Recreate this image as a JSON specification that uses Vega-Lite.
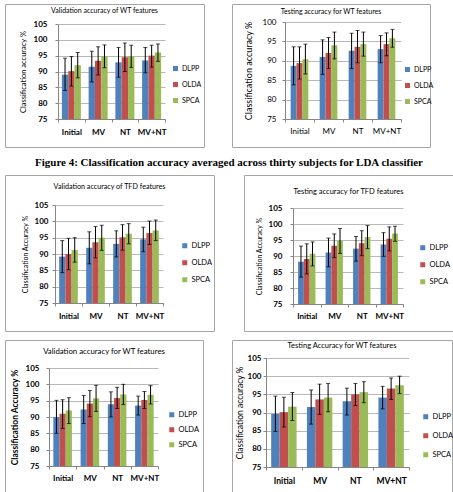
{
  "$schema": "https://vega.github.io/schema/vega-lite/v6.json",
  "padding": {"left": 4, "top": 3, "right": 3, "bottom": 4},
  "background": "white",
  "datasets": {
    "acc": [
      {"p": "a", "cond": "Initial", "method": "DLPP", "mean": 89.0, "lo": 84.0, "hi": 94.2},
      {"p": "a", "cond": "Initial", "method": "OLDA", "mean": 90.1, "lo": 85.4, "hi": 94.7},
      {"p": "a", "cond": "Initial", "method": "SPCA", "mean": 92.0, "lo": 88.0, "hi": 96.0},
      {"p": "a", "cond": "MV", "method": "DLPP", "mean": 91.5, "lo": 86.7, "hi": 96.4},
      {"p": "a", "cond": "MV", "method": "OLDA", "mean": 93.4, "lo": 88.9, "hi": 97.8},
      {"p": "a", "cond": "MV", "method": "SPCA", "mean": 94.8, "lo": 91.2, "hi": 98.4},
      {"p": "a", "cond": "NT", "method": "DLPP", "mean": 92.9, "lo": 88.2, "hi": 97.6},
      {"p": "a", "cond": "NT", "method": "OLDA", "mean": 94.5, "lo": 90.0, "hi": 99.0},
      {"p": "a", "cond": "NT", "method": "SPCA", "mean": 94.8, "lo": 91.3, "hi": 98.3},
      {"p": "a", "cond": "MV+NT", "method": "DLPP", "mean": 93.5, "lo": 89.6, "hi": 97.6},
      {"p": "a", "cond": "MV+NT", "method": "OLDA", "mean": 95.0, "lo": 91.4, "hi": 98.3},
      {"p": "a", "cond": "MV+NT", "method": "SPCA", "mean": 96.0, "lo": 93.2, "hi": 98.7},

      {"p": "b", "cond": "Initial", "method": "DLPP", "mean": 88.7, "lo": 83.8, "hi": 93.6},
      {"p": "b", "cond": "Initial", "method": "OLDA", "mean": 89.4, "lo": 85.3, "hi": 93.6},
      {"p": "b", "cond": "Initial", "method": "SPCA", "mean": 90.4, "lo": 86.6, "hi": 94.3},
      {"p": "b", "cond": "MV", "method": "DLPP", "mean": 91.0, "lo": 86.5, "hi": 95.4},
      {"p": "b", "cond": "MV", "method": "OLDA", "mean": 92.0, "lo": 88.0, "hi": 96.0},
      {"p": "b", "cond": "MV", "method": "SPCA", "mean": 94.0, "lo": 90.5, "hi": 97.4},
      {"p": "b", "cond": "NT", "method": "DLPP", "mean": 92.6, "lo": 88.0, "hi": 97.1},
      {"p": "b", "cond": "NT", "method": "OLDA", "mean": 93.6, "lo": 89.5, "hi": 97.8},
      {"p": "b", "cond": "NT", "method": "SPCA", "mean": 94.3, "lo": 91.2, "hi": 97.4},
      {"p": "b", "cond": "MV+NT", "method": "DLPP", "mean": 93.0, "lo": 89.5, "hi": 96.5},
      {"p": "b", "cond": "MV+NT", "method": "OLDA", "mean": 94.3, "lo": 91.3, "hi": 97.2},
      {"p": "b", "cond": "MV+NT", "method": "SPCA", "mean": 95.8, "lo": 93.5, "hi": 98.1},

      {"p": "c", "cond": "Initial", "method": "DLPP", "mean": 89.2, "lo": 84.3, "hi": 94.1},
      {"p": "c", "cond": "Initial", "method": "OLDA", "mean": 90.0, "lo": 85.2, "hi": 94.8},
      {"p": "c", "cond": "Initial", "method": "SPCA", "mean": 91.2, "lo": 87.5, "hi": 95.0},
      {"p": "c", "cond": "MV", "method": "DLPP", "mean": 91.9, "lo": 87.0, "hi": 96.8},
      {"p": "c", "cond": "MV", "method": "OLDA", "mean": 93.6, "lo": 88.8, "hi": 98.4},
      {"p": "c", "cond": "MV", "method": "SPCA", "mean": 95.0, "lo": 91.1, "hi": 98.8},
      {"p": "c", "cond": "NT", "method": "DLPP", "mean": 93.1, "lo": 89.1, "hi": 97.1},
      {"p": "c", "cond": "NT", "method": "OLDA", "mean": 95.1, "lo": 91.2, "hi": 99.0},
      {"p": "c", "cond": "NT", "method": "SPCA", "mean": 96.2, "lo": 93.1, "hi": 99.3},
      {"p": "c", "cond": "MV+NT", "method": "DLPP", "mean": 94.5, "lo": 90.7, "hi": 98.2},
      {"p": "c", "cond": "MV+NT", "method": "OLDA", "mean": 96.4, "lo": 92.9, "hi": 100.1},
      {"p": "c", "cond": "MV+NT", "method": "SPCA", "mean": 97.2, "lo": 94.1, "hi": 100.4},

      {"p": "d", "cond": "Initial", "method": "DLPP", "mean": 88.2, "lo": 83.4, "hi": 93.1},
      {"p": "d", "cond": "Initial", "method": "OLDA", "mean": 89.1, "lo": 84.4, "hi": 93.8},
      {"p": "d", "cond": "Initial", "method": "SPCA", "mean": 90.7, "lo": 86.9, "hi": 94.4},
      {"p": "d", "cond": "MV", "method": "DLPP", "mean": 91.1, "lo": 86.6, "hi": 95.6},
      {"p": "d", "cond": "MV", "method": "OLDA", "mean": 93.2, "lo": 89.5, "hi": 96.9},
      {"p": "d", "cond": "MV", "method": "SPCA", "mean": 94.8, "lo": 90.8, "hi": 98.6},
      {"p": "d", "cond": "NT", "method": "DLPP", "mean": 92.3, "lo": 88.4, "hi": 96.1},
      {"p": "d", "cond": "NT", "method": "OLDA", "mean": 94.0, "lo": 90.1, "hi": 97.9},
      {"p": "d", "cond": "NT", "method": "SPCA", "mean": 95.9, "lo": 92.3, "hi": 99.5},
      {"p": "d", "cond": "MV+NT", "method": "DLPP", "mean": 93.6, "lo": 89.9, "hi": 97.3},
      {"p": "d", "cond": "MV+NT", "method": "OLDA", "mean": 95.4, "lo": 91.6, "hi": 99.1},
      {"p": "d", "cond": "MV+NT", "method": "SPCA", "mean": 97.0, "lo": 94.6, "hi": 99.3},

      {"p": "e", "cond": "Initial", "method": "DLPP", "mean": 90.0, "lo": 85.0, "hi": 95.1},
      {"p": "e", "cond": "Initial", "method": "OLDA", "mean": 91.0, "lo": 86.5, "hi": 95.3},
      {"p": "e", "cond": "Initial", "method": "SPCA", "mean": 92.0, "lo": 88.0, "hi": 95.9},
      {"p": "e", "cond": "MV", "method": "DLPP", "mean": 92.3, "lo": 88.0, "hi": 96.6},
      {"p": "e", "cond": "MV", "method": "OLDA", "mean": 94.1, "lo": 90.1, "hi": 98.1},
      {"p": "e", "cond": "MV", "method": "SPCA", "mean": 95.7, "lo": 91.7, "hi": 99.7},
      {"p": "e", "cond": "NT", "method": "DLPP", "mean": 93.9, "lo": 90.0, "hi": 97.7},
      {"p": "e", "cond": "NT", "method": "OLDA", "mean": 95.8, "lo": 92.6, "hi": 99.1},
      {"p": "e", "cond": "NT", "method": "SPCA", "mean": 96.9, "lo": 93.8, "hi": 100.0},
      {"p": "e", "cond": "MV+NT", "method": "DLPP", "mean": 93.5, "lo": 90.6, "hi": 96.4},
      {"p": "e", "cond": "MV+NT", "method": "OLDA", "mean": 95.2, "lo": 92.6, "hi": 97.8},
      {"p": "e", "cond": "MV+NT", "method": "SPCA", "mean": 96.8, "lo": 94.0, "hi": 99.6},

      {"p": "f", "cond": "Initial", "method": "DLPP", "mean": 89.6, "lo": 84.8, "hi": 94.5},
      {"p": "f", "cond": "Initial", "method": "OLDA", "mean": 90.1, "lo": 86.0, "hi": 94.2},
      {"p": "f", "cond": "Initial", "method": "SPCA", "mean": 91.6, "lo": 87.8, "hi": 95.5},
      {"p": "f", "cond": "MV", "method": "DLPP", "mean": 91.5, "lo": 86.8, "hi": 96.2},
      {"p": "f", "cond": "MV", "method": "OLDA", "mean": 93.6, "lo": 89.5, "hi": 97.8},
      {"p": "f", "cond": "MV", "method": "SPCA", "mean": 94.1, "lo": 90.2, "hi": 98.0},
      {"p": "f", "cond": "NT", "method": "DLPP", "mean": 93.1, "lo": 89.3, "hi": 96.7},
      {"p": "f", "cond": "NT", "method": "OLDA", "mean": 95.0, "lo": 91.9, "hi": 98.0},
      {"p": "f", "cond": "NT", "method": "SPCA", "mean": 95.6, "lo": 92.7, "hi": 98.5},
      {"p": "f", "cond": "MV+NT", "method": "DLPP", "mean": 94.1, "lo": 91.0, "hi": 97.2},
      {"p": "f", "cond": "MV+NT", "method": "OLDA", "mean": 96.6, "lo": 93.6, "hi": 99.5},
      {"p": "f", "cond": "MV+NT", "method": "SPCA", "mean": 97.5, "lo": 95.2, "hi": 100.0}
    ]
  },
  "resolve": {"scale": {"x": "independent", "y": "independent", "xOffset": "independent", "color": "independent"}, "legend": {"color": "independent"}, "axis": {"x": "independent", "y": "independent"}},
  "spacing": 8,
  "vconcat": [
    {
      "spacing": 26,
      "resolve": {"scale": {"x": "independent", "y": "independent", "xOffset": "independent", "color": "independent"}, "legend": {"color": "independent"}, "axis": {"x": "independent", "y": "independent"}},
      "hconcat": [
        {
          "width": 199, "height": 143,
          "title": {"text": "Validation accuracy of WT features", "offset": -10, "fontSize": 7},
          "data": {"name": "acc"},
          "transform": [{"filter": "datum.p == 'a'"}],
          "encoding": {
            "x": {"field": "cond", "type": "nominal", "sort": ["Initial", "MV", "NT", "MV+NT"], "scale": {"range": [53, 160], "paddingInner": 0, "paddingOuter": 0}, "axis": {"title": null, "offset": -28, "labelPadding": 6}},
            "xOffset": {"field": "method", "type": "nominal", "sort": ["DLPP", "OLDA", "SPCA"], "scale": {"paddingInner": 0, "paddingOuter": 0.61}}
          },
          "layer": [
            {"mark": "bar", "encoding": {
              "y": {"field": "mean", "type": "quantitative", "title": "Classification accuracy %", "scale": {"domain": [75, 105], "range": [115, 20], "nice": false, "zero": false}, "axis": {"offset": -53, "values": [75, 80, 85, 90, 95, 100, 105], "labelOverlap": false, "labelPadding": 8, "titlePadding": 6, "titleFontSize": 7.5}},
              "y2": {"datum": 75},
              "color": {"field": "method", "type": "nominal", "scale": {"domain": ["DLPP", "OLDA", "SPCA"], "range": ["#4F81BD", "#C0504D", "#9BBB59"]}, "legend": {"legendX": 167, "legendY": 61, "labelFontSize": 7, "rowPadding": 8}}
            }},
            {"mark": {"type": "rule", "color": "black"}, "encoding": {"y": {"field": "lo", "type": "quantitative", "title": "Classification accuracy %", "axis": {"offset": -53, "values": [75, 80, 85, 90, 95, 100, 105], "labelOverlap": false, "labelPadding": 8, "titlePadding": 6, "titleFontSize": 7.5}}, "y2": {"field": "hi"}}},
            {"mark": {"type": "tick", "color": "black", "size": 4, "thickness": 1}, "encoding": {"y": {"field": "lo", "type": "quantitative", "title": "Classification accuracy %", "axis": {"offset": -53, "values": [75, 80, 85, 90, 95, 100, 105], "labelOverlap": false, "labelPadding": 8, "titlePadding": 6, "titleFontSize": 7.5}}}},
            {"mark": {"type": "tick", "color": "black", "size": 4, "thickness": 1}, "encoding": {"y": {"field": "hi", "type": "quantitative", "title": "Classification accuracy %", "axis": {"offset": -53, "values": [75, 80, 85, 90, 95, 100, 105], "labelOverlap": false, "labelPadding": 8, "titlePadding": 6, "titleFontSize": 7.5}}}}
          ]
        },
        {
          "width": 198, "height": 143,
          "title": {"text": "Testing accuracy for WT features", "offset": -11, "fontSize": 7},
          "data": {"name": "acc"},
          "transform": [{"filter": "datum.p == 'b'"}],
          "encoding": {
            "x": {"field": "cond", "type": "nominal", "sort": ["Initial", "MV", "NT", "MV+NT"], "scale": {"range": [53, 169], "paddingInner": 0, "paddingOuter": 0}, "axis": {"title": null, "offset": -28, "labelPadding": 5, "labelFontWeight": "normal"}},
            "xOffset": {"field": "method", "type": "nominal", "sort": ["DLPP", "OLDA", "SPCA"], "scale": {"paddingInner": 0, "paddingOuter": 0.96}}
          },
          "layer": [
            {"mark": "bar", "encoding": {
              "y": {"field": "mean", "type": "quantitative", "title": "Classification accuracy %", "scale": {"domain": [75, 100], "range": [115, 18], "nice": false, "zero": false}, "axis": {"offset": -53, "values": [75, 80, 85, 90, 95, 100], "labelOverlap": false, "labelFontWeight": "normal", "labelPadding": 6, "titlePadding": 9, "titleFontSize": 9}},
              "y2": {"datum": 75},
              "color": {"field": "method", "type": "nominal", "scale": {"domain": ["DLPP", "OLDA", "SPCA"], "range": ["#4F81BD", "#C0504D", "#9BBB59"]}, "legend": {"legendX": 172, "legendY": 62, "labelFontSize": 7, "rowPadding": 8}}
            }},
            {"mark": {"type": "rule", "color": "black"}, "encoding": {"y": {"field": "lo", "type": "quantitative", "title": "Classification accuracy %", "axis": {"offset": -53, "values": [75, 80, 85, 90, 95, 100], "labelOverlap": false, "labelFontWeight": "normal", "labelPadding": 6, "titlePadding": 9, "titleFontSize": 9}}, "y2": {"field": "hi"}}},
            {"mark": {"type": "tick", "color": "black", "size": 4, "thickness": 1}, "encoding": {"y": {"field": "lo", "type": "quantitative", "title": "Classification accuracy %", "axis": {"offset": -53, "values": [75, 80, 85, 90, 95, 100], "labelOverlap": false, "labelFontWeight": "normal", "labelPadding": 6, "titlePadding": 9, "titleFontSize": 9}}}},
            {"mark": {"type": "tick", "color": "black", "size": 4, "thickness": 1}, "encoding": {"y": {"field": "hi", "type": "quantitative", "title": "Classification accuracy %", "axis": {"offset": -53, "values": [75, 80, 85, 90, 95, 100], "labelOverlap": false, "labelFontWeight": "normal", "labelPadding": 6, "titlePadding": 9, "titleFontSize": 9}}}}
          ]
        }
      ]
    },
    {
      "title": {"text": "Figure 4: Classification accuracy averaged across thirty subjects for LDA classifier", "font": "Liberation Serif", "fontSize": 11, "fontWeight": "bold", "color": "black", "anchor": "middle", "offset": 7},
      "spacing": 7,
      "resolve": {"scale": {"x": "independent", "y": "independent", "xOffset": "independent", "color": "independent"}, "legend": {"color": "independent"}, "axis": {"x": "independent", "y": "independent"}},
      "vconcat": [
        {
          "spacing": 28,
          "resolve": {"scale": {"x": "independent", "y": "independent", "xOffset": "independent", "color": "independent"}, "legend": {"color": "independent"}, "axis": {"x": "independent", "y": "independent"}},
          "hconcat": [
            {
              "width": 209, "height": 156,
              "title": {"text": "Validation accuracy of TFD features", "offset": -15, "fontSize": 7.2},
              "data": {"name": "acc"},
              "transform": [{"filter": "datum.p == 'c'"}],
              "encoding": {
                "x": {"field": "cond", "type": "nominal", "sort": ["Initial", "MV", "NT", "MV+NT"], "scale": {"range": [50, 158], "paddingInner": 0, "paddingOuter": 0}, "axis": {"title": null, "offset": -28, "labelPadding": 6}},
                "xOffset": {"field": "method", "type": "nominal", "sort": ["DLPP", "OLDA", "SPCA"], "scale": {"paddingInner": 0, "paddingOuter": 0.67}}
              },
              "layer": [
                {"mark": "bar", "encoding": {
                  "y": {"field": "mean", "type": "quantitative", "title": "Classification Accuracy %", "scale": {"domain": [75, 105], "range": [128, 30], "nice": false, "zero": false}, "axis": {"offset": -50, "values": [75, 80, 85, 90, 95, 100, 105], "labelOverlap": false, "labelPadding": 4, "titlePadding": 6, "titleFontSize": 7}},
                  "y2": {"datum": 75},
                  "color": {"field": "method", "type": "nominal", "scale": {"domain": ["DLPP", "OLDA", "SPCA"], "range": ["#4F81BD", "#C0504D", "#9BBB59"]}, "legend": {"legendX": 176, "legendY": 67, "rowPadding": 8}}
                }},
                {"mark": {"type": "rule", "color": "black"}, "encoding": {"y": {"field": "lo", "type": "quantitative", "title": "Classification Accuracy %", "axis": {"offset": -50, "values": [75, 80, 85, 90, 95, 100, 105], "labelOverlap": false, "labelPadding": 4, "titlePadding": 6, "titleFontSize": 7}}, "y2": {"field": "hi"}}},
                {"mark": {"type": "tick", "color": "black", "size": 4, "thickness": 1}, "encoding": {"y": {"field": "lo", "type": "quantitative", "title": "Classification Accuracy %", "axis": {"offset": -50, "values": [75, 80, 85, 90, 95, 100, 105], "labelOverlap": false, "labelPadding": 4, "titlePadding": 6, "titleFontSize": 7}}}},
                {"mark": {"type": "tick", "color": "black", "size": 4, "thickness": 1}, "encoding": {"y": {"field": "hi", "type": "quantitative", "title": "Classification Accuracy %", "axis": {"offset": -50, "values": [75, 80, 85, 90, 95, 100, 105], "labelOverlap": false, "labelPadding": 4, "titlePadding": 6, "titleFontSize": 7}}}}
              ]
            },
            {
              "width": 209, "height": 156,
              "title": {"text": "Testing accuracy for TFD features", "offset": -20, "fontSize": 7.5},
              "data": {"name": "acc"},
              "transform": [{"filter": "datum.p == 'd'"}],
              "encoding": {
                "x": {"field": "cond", "type": "nominal", "sort": ["Initial", "MV", "NT", "MV+NT"], "scale": {"range": [49, 159], "paddingInner": 0, "paddingOuter": 0}, "axis": {"title": null, "offset": -27, "labelPadding": 5}},
                "xOffset": {"field": "method", "type": "nominal", "sort": ["DLPP", "OLDA", "SPCA"], "scale": {"paddingInner": 0, "paddingOuter": 0.88}}
              },
              "layer": [
                {"mark": "bar", "encoding": {
                  "y": {"field": "mean", "type": "quantitative", "title": "Classification Accuracy %", "scale": {"domain": [75, 105], "range": [129, 33], "nice": false, "zero": false}, "axis": {"offset": -49, "values": [75, 80, 85, 90, 95, 100, 105], "labelOverlap": false, "labelPadding": 8, "titlePadding": 6, "titleFontSize": 7}},
                  "y2": {"datum": 75},
                  "color": {"field": "method", "type": "nominal", "scale": {"domain": ["DLPP", "OLDA", "SPCA"], "range": ["#4F81BD", "#C0504D", "#9BBB59"]}, "legend": {"legendX": 175, "legendY": 69, "rowPadding": 8}}
                }},
                {"mark": {"type": "rule", "color": "black"}, "encoding": {"y": {"field": "lo", "type": "quantitative", "title": "Classification Accuracy %", "axis": {"offset": -49, "values": [75, 80, 85, 90, 95, 100, 105], "labelOverlap": false, "labelPadding": 8, "titlePadding": 6, "titleFontSize": 7}}, "y2": {"field": "hi"}}},
                {"mark": {"type": "tick", "color": "black", "size": 4, "thickness": 1}, "encoding": {"y": {"field": "lo", "type": "quantitative", "title": "Classification Accuracy %", "axis": {"offset": -49, "values": [75, 80, 85, 90, 95, 100, 105], "labelOverlap": false, "labelPadding": 8, "titlePadding": 6, "titleFontSize": 7}}}},
                {"mark": {"type": "tick", "color": "black", "size": 4, "thickness": 1}, "encoding": {"y": {"field": "hi", "type": "quantitative", "title": "Classification Accuracy %", "axis": {"offset": -49, "values": [75, 80, 85, 90, 95, 100, 105], "labelOverlap": false, "labelPadding": 8, "titlePadding": 6, "titleFontSize": 7}}}}
              ]
            }
          ]
        },
        {
          "spacing": 27,
          "resolve": {"scale": {"x": "independent", "y": "independent", "xOffset": "independent", "color": "independent"}, "legend": {"color": "independent"}, "axis": {"x": "independent", "y": "independent"}},
          "hconcat": [
            {
              "width": 198, "height": 152,
              "title": {"text": "Validation accuracy for WT features", "offset": -16, "fontSize": 7.8},
              "data": {"name": "acc"},
              "transform": [{"filter": "datum.p == 'e'"}],
              "encoding": {
                "x": {"field": "cond", "type": "nominal", "sort": ["Initial", "MV", "NT", "MV+NT"], "scale": {"range": [44, 153], "paddingInner": 0, "paddingOuter": 0}, "axis": {"title": null, "offset": -26, "labelPadding": 5}},
                "xOffset": {"field": "method", "type": "nominal", "sort": ["DLPP", "OLDA", "SPCA"], "scale": {"paddingInner": 0, "paddingOuter": 0.7}}
              },
              "layer": [
                {"mark": "bar", "encoding": {
                  "y": {"field": "mean", "type": "quantitative", "title": "Classification Accuracy %", "scale": {"domain": [75, 105], "range": [126, 28], "nice": false, "zero": false}, "axis": {"offset": -44, "values": [75, 80, 85, 90, 95, 100, 105], "labelOverlap": false, "labelPadding": 7, "titlePadding": 6, "titleFontSize": 8.5, "titleFontWeight": "bold"}},
                  "y2": {"datum": 75},
                  "color": {"field": "method", "type": "nominal", "scale": {"domain": ["DLPP", "OLDA", "SPCA"], "range": ["#4F81BD", "#C0504D", "#9BBB59"]}, "legend": {"legendX": 163, "legendY": 71, "rowPadding": 6}}
                }},
                {"mark": {"type": "rule", "color": "black"}, "encoding": {"y": {"field": "lo", "type": "quantitative", "title": "Classification Accuracy %", "axis": {"offset": -44, "values": [75, 80, 85, 90, 95, 100, 105], "labelOverlap": false, "labelPadding": 7, "titlePadding": 6, "titleFontSize": 8.5, "titleFontWeight": "bold"}}, "y2": {"field": "hi"}}},
                {"mark": {"type": "tick", "color": "black", "size": 4, "thickness": 1}, "encoding": {"y": {"field": "lo", "type": "quantitative", "title": "Classification Accuracy %", "axis": {"offset": -44, "values": [75, 80, 85, 90, 95, 100, 105], "labelOverlap": false, "labelPadding": 7, "titlePadding": 6, "titleFontSize": 8.5, "titleFontWeight": "bold"}}}},
                {"mark": {"type": "tick", "color": "black", "size": 4, "thickness": 1}, "encoding": {"y": {"field": "hi", "type": "quantitative", "title": "Classification Accuracy %", "axis": {"offset": -44, "values": [75, 80, 85, 90, 95, 100, 105], "labelOverlap": false, "labelPadding": 7, "titlePadding": 6, "titleFontSize": 8.5, "titleFontWeight": "bold"}}}}
              ]
            },
            {
              "width": 220, "height": 153,
              "title": {"text": "Testing Accuracy for WT features", "offset": -9, "fontSize": 7.5},
              "data": {"name": "acc"},
              "transform": [{"filter": "datum.p == 'f'"}],
              "encoding": {
                "x": {"field": "cond", "type": "nominal", "sort": ["Initial", "MV", "NT", "MV+NT"], "scale": {"range": [34, 177], "paddingInner": 0, "paddingOuter": 0}, "axis": {"title": null, "offset": -26, "labelPadding": 6, "labelFontSize": 8.5}},
                "xOffset": {"field": "method", "type": "nominal", "sort": ["DLPP", "OLDA", "SPCA"], "scale": {"paddingInner": 0, "paddingOuter": 0.61}}
              },
              "layer": [
                {"mark": "bar", "encoding": {
                  "y": {"field": "mean", "type": "quantitative", "title": "Classification accuracy %", "scale": {"domain": [75, 105], "range": [127, 18], "nice": false, "zero": false}, "axis": {"offset": -34, "values": [75, 80, 85, 90, 95, 100, 105], "labelOverlap": false, "labelPadding": 2, "titlePadding": 3, "titleFontSize": 8.5}},
                  "y2": {"datum": 75},
                  "color": {"field": "method", "type": "nominal", "scale": {"domain": ["DLPP", "OLDA", "SPCA"], "range": ["#4F81BD", "#C0504D", "#9BBB59"]}, "legend": {"legendX": 190, "legendY": 73, "rowPadding": 10, "labelFontSize": 7.5}}
                }},
                {"mark": {"type": "rule", "color": "black"}, "encoding": {"y": {"field": "lo", "type": "quantitative", "title": "Classification accuracy %", "axis": {"offset": -34, "values": [75, 80, 85, 90, 95, 100, 105], "labelOverlap": false, "labelPadding": 2, "titlePadding": 3, "titleFontSize": 8.5}}, "y2": {"field": "hi"}}},
                {"mark": {"type": "tick", "color": "black", "size": 4, "thickness": 1}, "encoding": {"y": {"field": "lo", "type": "quantitative", "title": "Classification accuracy %", "axis": {"offset": -34, "values": [75, 80, 85, 90, 95, 100, 105], "labelOverlap": false, "labelPadding": 2, "titlePadding": 3, "titleFontSize": 8.5}}}},
                {"mark": {"type": "tick", "color": "black", "size": 4, "thickness": 1}, "encoding": {"y": {"field": "hi", "type": "quantitative", "title": "Classification accuracy %", "axis": {"offset": -34, "values": [75, 80, 85, 90, 95, 100, 105], "labelOverlap": false, "labelPadding": 2, "titlePadding": 3, "titleFontSize": 8.5}}}}
              ]
            }
          ]
        }
      ]
    }
  ],
  "config": {
    "font": "Lato",
    "view": {"stroke": "#a6a6a6", "strokeWidth": 1},
    "title": {"font": "Lato", "fontSize": 8, "fontWeight": "normal", "color": "black", "anchor": "middle"},
    "axis": {
      "labelFont": "Lato", "labelFontSize": 8, "labelFontWeight": "bold", "labelColor": "black",
      "titleFont": "Lato", "titleFontSize": 8, "titleFontWeight": "normal", "titleColor": "black",
      "domainColor": "#868686", "tickColor": "#868686", "tickSize": 3,
      "gridColor": "#b8b8b8", "gridWidth": 1, "labelOverlap": false
    },
    "axisX": {"labelAngle": 0, "tickBand": "extent", "grid": false},
    "axisY": {"grid": true},
    "legend": {
      "orient": "none", "title": null, "symbolType": "square", "symbolSize": 25, "symbolStrokeWidth": 0,
      "labelFont": "Lato", "labelFontSize": 7.5, "labelColor": "black", "labelOffset": 3, "rowPadding": 7, "padding": 0
    },
    "bar": {"stroke": null}
  }
}
